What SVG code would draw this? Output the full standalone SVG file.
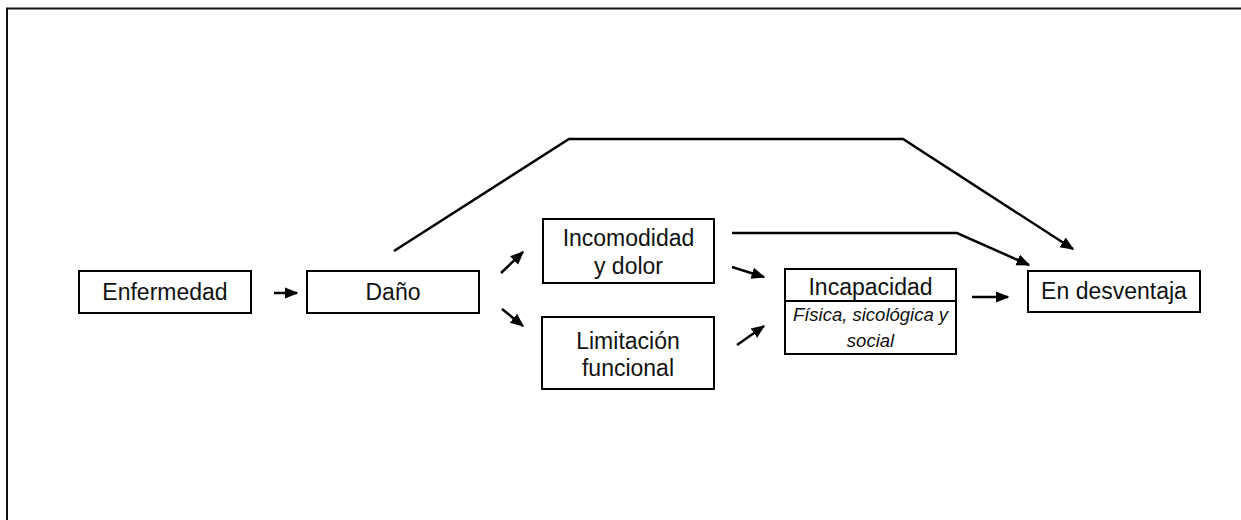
<svg xmlns="http://www.w3.org/2000/svg" width="1241" height="520" viewBox="0 0 1241 520">
<defs>
<style>
.box{fill:#fff;stroke:#000;stroke-width:2}
.t{font-family:"Liberation Sans",Arial,sans-serif;font-size:23px;fill:#111;text-anchor:middle}
.ti{font-family:"Liberation Sans",Arial,sans-serif;font-size:18.5px;font-style:italic;fill:#111;text-anchor:middle}
.c{fill:none;stroke:#000;stroke-width:2.5}
</style>
<marker id="ah" viewBox="0 0 10 10" refX="9" refY="5" markerWidth="5.5" markerHeight="5.5" markerUnits="strokeWidth" orient="auto">
<path d="M0,0.8 L10,5 L0,9.2 z" fill="#000"/>
</marker>
</defs>
<rect width="1241" height="520" fill="#fff"/>
<g id="frame">
<path d="M7,520 V8.5 H1241" fill="none" stroke="#111" stroke-width="2"/>
</g>
<g id="connectors">
<line class="c" x1="274" y1="293" x2="297" y2="293" marker-end="url(#ah)"/>
<line class="c" x1="501" y1="273" x2="523" y2="252" marker-end="url(#ah)"/>
<line class="c" x1="502" y1="309" x2="523" y2="326" marker-end="url(#ah)"/>
<line class="c" x1="732" y1="267" x2="764" y2="277" marker-end="url(#ah)"/>
<line class="c" x1="737" y1="345" x2="764" y2="326" marker-end="url(#ah)"/>
<line class="c" x1="972" y1="297" x2="1008" y2="297" marker-end="url(#ah)"/>
<polyline class="c" points="732,233 957,233 1029,265" marker-end="url(#ah)"/>
<polyline class="c" points="394,251 569,139 903,139 1073,249" marker-end="url(#ah)"/>
</g>
<g id="enfermedad">
<rect class="box" x="79" y="271" width="172" height="42"/>
<text class="t" x="165" y="300">Enfermedad</text>
</g>
<g id="dano">
<rect class="box" x="307" y="271" width="172" height="42"/>
<text class="t" x="393" y="300">Daño</text>
</g>
<g id="incomodidad">
<rect class="box" x="543" y="219" width="171" height="64"/>
<text class="t" x="628.5" y="246">Incomodidad</text>
<text class="t" x="628.5" y="274">y dolor</text>
</g>
<g id="limitacion">
<rect class="box" x="542" y="317" width="172" height="72"/>
<text class="t" x="628" y="349">Limitación</text>
<text class="t" x="628" y="376">funcional</text>
</g>
<g id="incapacidad">
<rect class="box" x="785" y="269" width="171" height="85"/>
<line x1="785" y1="301" x2="956" y2="301" stroke="#000" stroke-width="2"/>
<text class="t" x="870.5" y="295">Incapacidad</text>
<text class="ti" x="870.5" y="321">Física, sicológica y</text>
<text class="ti" x="870.5" y="347">social</text>
</g>
<g id="desventaja">
<rect class="box" x="1028" y="271" width="172" height="41"/>
<text class="t" x="1114" y="299">En desventaja</text>
</g>
</svg>
